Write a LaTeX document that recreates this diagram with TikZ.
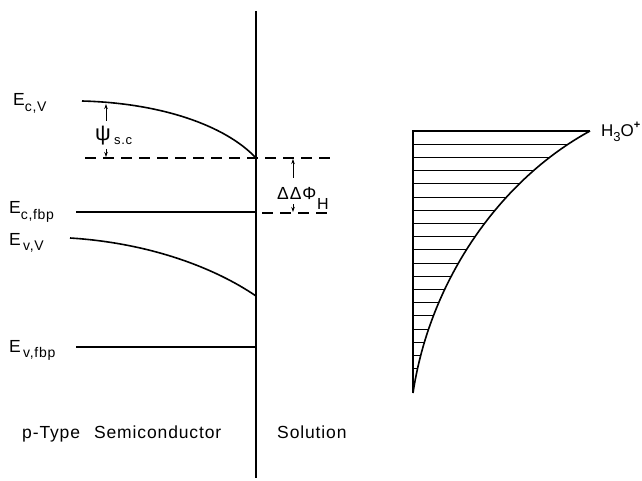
\documentclass[tikz,border=0pt]{standalone}
\usepackage{fontspec}
\setmainfont{Liberation Sans}[LetterSpace=5]
\usetikzlibrary{arrows.meta}
\newcommand\sublab[2]{#1\raisebox{-0.33em}{\fontsize{14}{14}\selectfont #2}}
\begin{document}
\begin{tikzpicture}[x=1pt,y=-1pt,
  level/.style={line width=1.6pt},
  dashlvl/.style={line width=1.3pt, dash pattern=on 11pt off 7pt},
  hatch/.style={line width=0.8pt},
  lab/.style={font=\fontsize{17.5}{17.5}\selectfont, inner sep=0pt, anchor=base west},
  arr/.style={line width=0.8pt, -{Stealth[length=5pt,width=3.5pt]}}]
\useasboundingbox (0,0) rectangle (642,481);

% interface
\coordinate (itop) at (256,11);
\coordinate (ibot) at (256,478);
\draw[level] (itop) -- (ibot);

% conduction band bending
\coordinate (cvA) at (82,101);
\coordinate (cvB) at (256,158);
\draw[level] (cvA) .. controls (160,103) and (225,125) .. (cvB);

% dashed levels
\coordinate (dA) at (85,158);
\coordinate (dB) at (333,158);
\draw[dashlvl] (dA) -- (dB);
\coordinate (eA) at (262,213);
\coordinate (eB) at (333,213);
\draw[dashlvl] (eA) -- (eB);

% flat band conduction
\coordinate (cfA) at (76,212);
\coordinate (cfB) at (256,212);
\draw[level] (cfA) -- (cfB);

% valence band bending
\coordinate (vvA) at (70,238);
\coordinate (vvB) at (256,296);
\draw[level] (vvA) .. controls (150,243) and (215,268) .. (vvB);

% flat band valence
\coordinate (vfA) at (76,347);
\coordinate (vfB) at (256,347);
\draw[level] (vfA) -- (vfB);

% psi arrows
\coordinate (p1) at (106,121);
\coordinate (p1e) at (106,104);
\coordinate (p2) at (106,149);
\coordinate (p2e) at (106,157);
\draw[arr] (p1) -- (p1e);
\draw[arr] (p2) -- (p2e);
\node[lab, font=\fontsize{22}{22}\selectfont] (psi) at (95,141) {ψ};
\node[lab, font=\fontsize{13}{13}\selectfont] (psisub) at (114,145) {s.c};

% Delta Delta phi arrows
\coordinate (q1) at (293,178);
\coordinate (q1e) at (293,159);
\coordinate (q2) at (293,204);
\coordinate (q2e) at (293,212);
\draw[arr] (q1) -- (q1e);
\draw[arr] (q2) -- (q2e);
\node[lab] (ddphi) at (277,200) {ΔΔΦ};
\node[lab, font=\fontsize{16}{16}\selectfont] (ddphisub) at (317,209) {H};

% level labels
\node[lab] (lEcV) at (13,106) {\sublab{E}{c,V}};
\node[lab] (lEcf) at (9,214) {\sublab{E}{c,fbp}};
\node[lab] (lEvV) at (9,245) {\sublab{E}{\,v,V}};
\node[lab] (lEvf) at (9,352) {\sublab{E}{\,v,fbp}};

% H3O+ profile
\coordinate (tTL) at (413,131);
\coordinate (tTR) at (590,131);
\coordinate (tB) at (413,393);
\begin{scope}
  \clip (tB) -- (tTL) -- (tTR) .. controls (500,180) and (430,280) .. (tB) -- cycle;
  \foreach \k in {1,...,19} \draw[hatch] (413,{131+13.2*\k}) -- ++(190,0);
\end{scope}
\draw[level] (tB) -- (tTL) -- (tTR);
\draw[level] (tTR) .. controls (500,180) and (430,280) .. (tB);
\node[lab, font=\fontsize{17}{17}\selectfont] (h3o) at (601,137) {H\raisebox{-0.25em}{\fontsize{13}{13}\selectfont 3}O\raisebox{0.5em}{\fontsize{11}{11}\selectfont\bfseries +}};

% bottom labels
\node[lab] (semi) at (22,438) {p-Type\hspace{14pt}Semiconductor};
\node[lab] (sol) at (277,438) {Solution};
\end{tikzpicture}
\end{document}
